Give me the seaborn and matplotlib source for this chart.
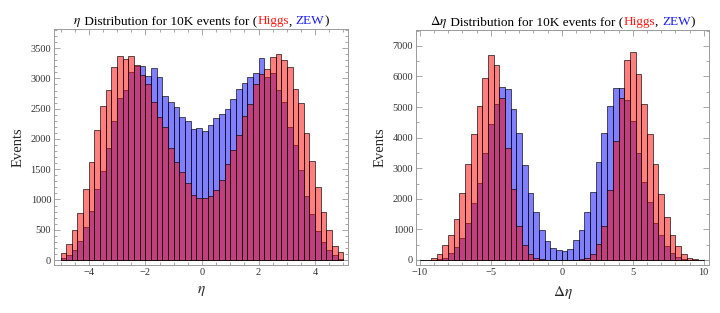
import numpy as np
import pandas as pd
import seaborn as sns
import matplotlib.pyplot as plt
import matplotlib.transforms as mtransforms
from matplotlib.ticker import MultipleLocator

# bin counts (50 bins each)
eta_edges = np.linspace(-5, 5, 51)
eta_higgs = [110, 257, 502, 775, 1174, 1616, 2140, 2550, 2812, 3194,
             3374, 3314, 3363, 3220, 3058, 2910, 2610, 2370, 2190, 1845,
             1622, 1452, 1278, 1076, 1026, 1026, 1065, 1158, 1327, 1589,
             1818, 2058, 2375, 2583, 2910, 3069, 3150, 3347, 3396, 3303,
             3189, 2828, 2599, 2097, 1638, 1212, 792, 502, 235, 126]
eta_zew = [33, 76, 164, 311, 551, 813, 1174, 1469, 1851, 2293,
           2670, 2817, 3107, 3200, 3205, 3040, 3180, 3019, 2708, 2604,
           2533, 2370, 2299, 2173, 2179, 2129, 2239, 2354, 2413, 2495,
           2659, 2828, 2927, 3019, 3085, 3331, 3030, 3085, 2806, 2610,
           2195, 1906, 1485, 1054, 753, 486, 300, 164, 76, 22]

deta_edges = np.linspace(-10, 10, 51)
deta_higgs = [10, 15, 60, 180, 480, 806, 1339, 2178, 3147, 4105,
              5042, 5957, 6686, 6371, 5280, 3670, 2309, 1100, 480, 185,
              76, 33, 11, 4, 2, 2, 4, 15, 40, 70,
              185, 510, 1110, 2290, 3888, 5303, 6534, 6784, 6066, 5097,
              4105, 3136, 2145, 1416, 817, 468, 196, 65, 22, 5]
deta_zew = [2, 3, 15, 40, 80, 240, 425, 719, 1209, 1851,
            2516, 3485, 4443, 5107, 5650, 5600, 4922, 4140, 3100, 2196,
            1554, 978, 630, 380, 326, 310, 375, 640, 975, 1580,
            2230, 3215, 4160, 5020, 5608, 5608, 5227, 4552, 3485, 2559,
            1906, 1220, 817, 457, 240, 98, 44, 11, 5, 2]

sns.set_style("ticks")
plt.rcParams['font.family'] = ['Liberation Serif', 'DejaVu Serif']
plt.rcParams['mathtext.fontset'] = 'stix'

RED = '#ff1a1a'
BLUE = '#1a1aff'
TITLE_SIZE = 9.5

fig = plt.figure(figsize=(7.2, 3.13), dpi=100)
ax1 = fig.add_axes([0.075, 0.1534, 0.4083, 0.7526])
ax2 = fig.add_axes([0.5778, 0.1534, 0.4069, 0.7510])


def draw_hist(ax, edges, zew, higgs):
    centers = (edges[:-1] + edges[1:]) / 2
    df = pd.DataFrame({'x': centers, 'zew': zew, 'higgs': higgs})
    ax.axhline(0, color='#999999', lw=0.6, zorder=0)
    # ZEW first, Higgs on top -> magenta overlap
    sns.histplot(data=df, x='x', weights='zew', bins=list(edges), color='#0000ff',
                 alpha=0.5, edgecolor='black', linewidth=0.45, ax=ax)
    sns.histplot(data=df, x='x', weights='higgs', bins=list(edges), color='#ff0000',
                 alpha=0.5, edgecolor='black', linewidth=0.45, ax=ax)


def style_axes(ax, xlabel, xmaj, xmin, ymaj, ymin):
    for s in ax.spines.values():
        s.set_visible(True)
        s.set_color('#9a9a9a')
        s.set_linewidth(0.7)
    ax.xaxis.set_major_locator(MultipleLocator(xmaj))
    ax.xaxis.set_minor_locator(MultipleLocator(xmin))
    ax.yaxis.set_major_locator(MultipleLocator(ymaj))
    ax.yaxis.set_minor_locator(MultipleLocator(ymin))
    ax.tick_params(which='both', direction='in', top=True, right=True,
                   color='#9a9a9a', width=0.6, labelsize=7.5, labelcolor='#333333', pad=2)
    ax.tick_params(which='major', length=4)
    ax.tick_params(which='minor', length=2)
    ax.set_xlabel(xlabel, fontsize=11, labelpad=5)
    ax.set_ylabel('Events', fontsize=10.5, labelpad=4)


def text_width(s, r):
    t = fig.text(0, 0, s, fontsize=TITLE_SIZE)
    w = t.get_window_extent(r).width
    t.remove()
    return w


def color_title(ax, symbol, pieces, pad_px=5):
    # symbol is mathtext, pieces are plain text (measured together so spacing is right)
    fig.canvas.draw()
    r = fig.canvas.get_renderer()
    w_sym = text_width(symbol, r)
    plain = ''.join(s for s, _ in pieces)
    total = w_sym + text_width(plain, r)
    bb = ax.get_window_extent(r)
    x0 = bb.x0 + (bb.width - total) / 2
    y = bb.y1 + pad_px
    ax.text(x0, y, symbol, color='black', fontsize=TITLE_SIZE, va='baseline',
            transform=mtransforms.IdentityTransform())
    xp = x0 + w_sym
    prefix = ''
    for s, c in pieces:
        prefix += s
        x = xp + text_width(prefix, r) - text_width(s, r)
        ax.text(x, y, s, color=c, fontsize=TITLE_SIZE, va='baseline',
                transform=mtransforms.IdentityTransform())


draw_hist(ax1, eta_edges, eta_zew, eta_higgs)
ax1.set_xlim(-5.23, 5.16)
ax1.set_ylim(-82, 3810)
style_axes(ax1, r'$\eta$', 2, 0.5, 500, 100)

draw_hist(ax2, deta_edges, deta_zew, deta_higgs)
ax2.set_xlim(-10.26, 10.37)
ax2.set_ylim(-163, 7520)
style_axes(ax2, r'$\Delta\eta$', 5, 1, 1000, 500)

title_rest = [(' Distribution for 10K events for (', 'black'), ('Higgs', RED),
              (', ', 'black'), ('ZEW', BLUE), (')', 'black')]
color_title(ax1, r'$\eta$', title_rest)
color_title(ax2, r'$\Delta\eta$', title_rest)

fig.savefig('out.png', dpi=100)
